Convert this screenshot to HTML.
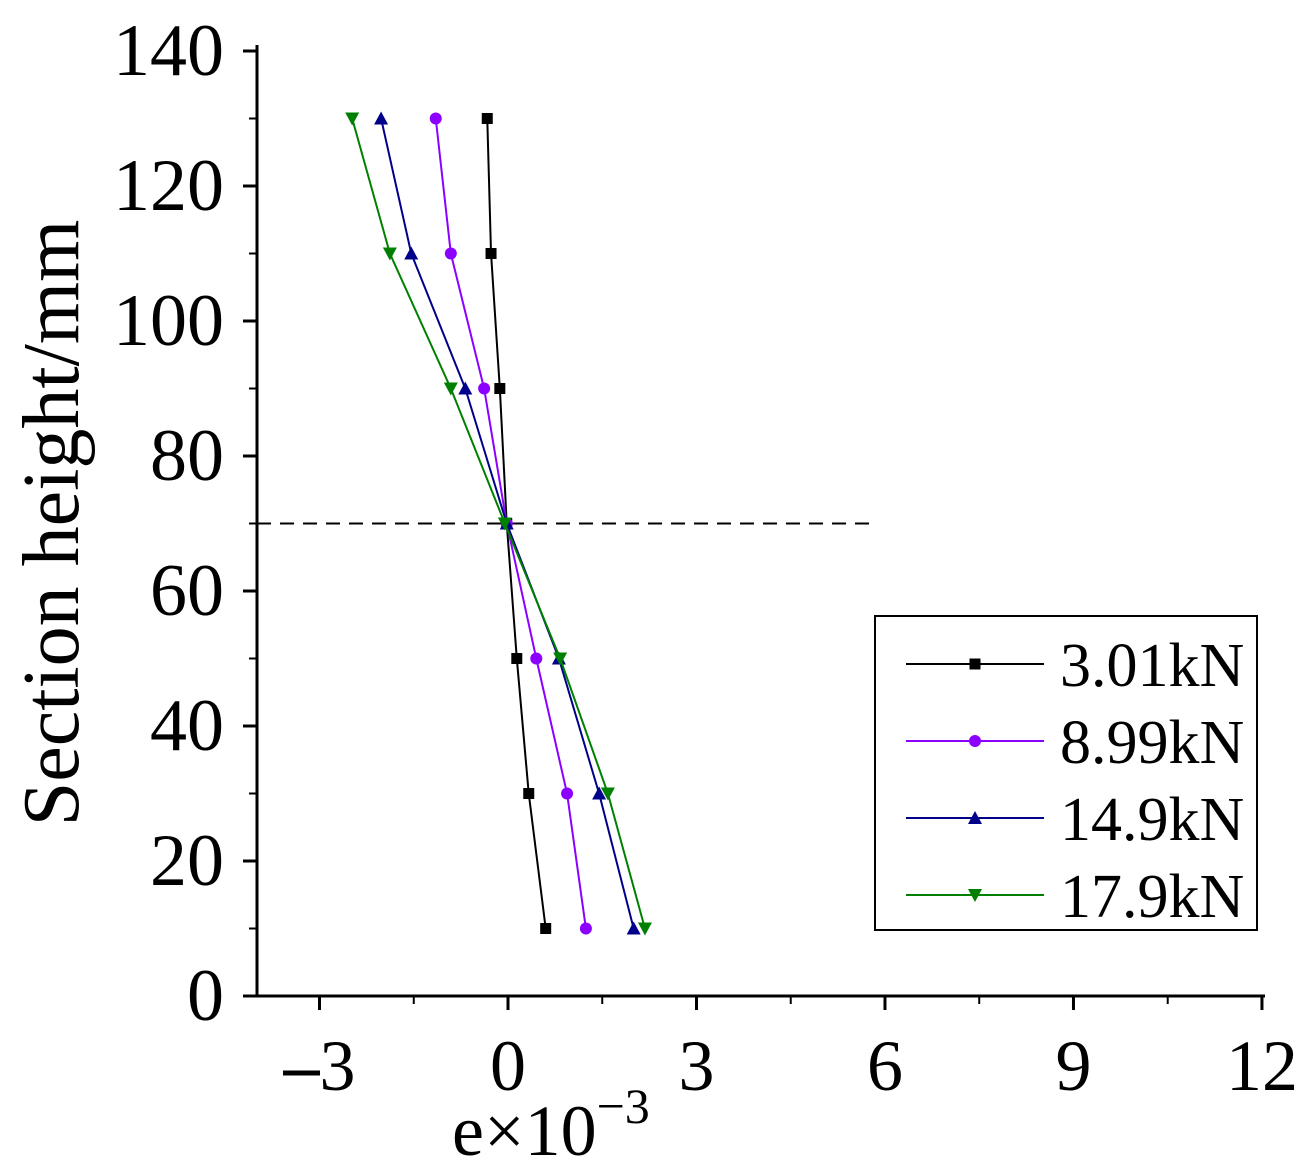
<!DOCTYPE html>
<html><head><meta charset="utf-8"><style>
html,body{margin:0;padding:0;background:#fff;}
svg{display:block;font-family:"Liberation Serif",serif;}
</style></head><body>
<svg id="chart" width="1313" height="1172" viewBox="0 0 1313 1172" xmlns="http://www.w3.org/2000/svg"></svg>
<script>
const heights = [130,110,90,70,50,30,10];
const s301 = [-0.33,-0.27,-0.13,-0.02,0.14,0.33,0.60];
const s899 = [-1.15,-0.91,-0.38,-0.02,0.45,0.94,1.24];
const s149 = [-2.02,-1.54,-0.68,-0.02,0.81,1.45,2.00];
const s179 = [-2.48,-1.88,-0.91,-0.05,0.83,1.59,2.18];
const seriesNames = ["3.01kN","8.99kN","14.9kN","17.9kN"];
const xTicks = [-3,0,3,6,9,12];
const xTickLabels = ["3","0","3","6","9","12"];
const yTicks = [0,20,40,60,80,100,120,140];
const neutralAxis = 70;

const NS="http://www.w3.org/2000/svg";
const svg=document.getElementById('chart');
const X0=257,X1=1265,Y0=996,Y1=51;
const ymin=0,ymax=140;
const xs=v=>508+v*62.83;
const ys=v=>Y0-(v-ymin)/(ymax-ymin)*(Y0-Y1);
function el(t,a,p){const e=document.createElementNS(NS,t);for(const k in a)e.setAttribute(k,a[k]);(p||svg).appendChild(e);return e;}

const ax=el('line',{x1:X0,y1:Y0,x2:X1,y2:Y0,stroke:'#000','stroke-width':3});


const ay=el('line',{x1:X0,y1:Y0,x2:X0,y2:45,stroke:'#000','stroke-width':3});



xTicks.forEach((v,i)=>{
  const x=xs(v);
  const t=el('line',{x1:x,y1:Y0,x2:x,y2:Y0+14,stroke:'#000','stroke-width':3});
  
  
  const m=v+1.5;
  if(xs(m)<X1){const mt=el('line',{x1:xs(m),y1:Y0,x2:xs(m),y2:Y0+8,stroke:'#000','stroke-width':2});
  
  }
  const tx=el('text',{x:x,y:1090,'font-size':72,'text-anchor':'middle'});
  if(v<0){const d=el('tspan',{'font-weight':'bold'},tx);d.textContent='\u2013';
    const n=el('tspan',{},tx);n.textContent=xTickLabels[i];}
  else tx.textContent=xTickLabels[i];
  
  
});
yTicks.forEach(v=>{
  const y=ys(v);
  const t=el('line',{x1:X0-14,y1:y,x2:X0,y2:y,stroke:'#000','stroke-width':3});
  
  
  if(v<140){const mt=el('line',{x1:X0-8,y1:ys(v+10),x2:X0,y2:ys(v+10),stroke:'#000','stroke-width':2});
  
  }
  const tx=el('text',{x:224,y:y+24,'font-size':74,'text-anchor':'end'});
  tx.textContent=String(v);
  
  
});
const yt=el('text',{x:0,y:0,'font-size':80,'text-anchor':'middle',transform:'translate(78,523) rotate(-90)'});
yt.textContent='Section height/mm';


const xt=el('text',{x:452,y:1155,'font-size':72});
xt.textContent='e\u00d710';


const sup=el('tspan',{dy:-32,'font-size':50},xt);sup.textContent='\u22123';

const dl=el('line',{x1:X0,y1:ys(neutralAxis),x2:xs(5.8),y2:ys(neutralAxis),stroke:'#000','stroke-width':2,'stroke-dasharray':'14,9'});



const colors=['#000000','#8b00ff','#00008b','#008000'];
const markers=['square','circle','up','down'];
function marker(type,x,y,c,g){
  let m;
  if(type==='square')m=el('rect',{x:x-5.5,y:y-5.5,width:11,height:11,fill:c},g);
  else if(type==='circle')m=el('circle',{cx:x,cy:y,r:6,fill:c},g);
  else if(type==='up')m=el('polygon',{points:`${x},${y-7} ${x-7},${y+6} ${x+7},${y+6}`,fill:c},g);
  else m=el('polygon',{points:`${x},${y+7} ${x-7},${y-6} ${x+7},${y-6}`,fill:c},g);
  return m;
}
[s301,s899,s149,s179].forEach((s,i)=>{
  const g=el('g',{});
  
  
  const pts=s.map((v,j)=>xs(v)+','+ys(heights[j])).join(' ');
  el('polyline',{points:pts,fill:'none',stroke:colors[i],'stroke-width':2},g);
  s.forEach((v,j)=>{
    const m=marker(markers[i],xs(v),ys(heights[j]),colors[i],g);
    
    
  });
});

const lg=el('g',{});


el('rect',{x:875,y:616,width:382,height:314,fill:'#fff',stroke:'#000','stroke-width':2},lg);
seriesNames.forEach((n,i)=>{
  const y=664+i*77;
  const e=el('g',{},lg);
  
  
  el('line',{x1:906,y1:y,x2:1044,y2:y,stroke:colors[i],'stroke-width':2},e);
  marker(markers[i],975,y,colors[i],e);
  const t=el('text',{x:1060,y:y+22,'font-size':62},e);t.textContent=n;
});
</script>
</body></html>
